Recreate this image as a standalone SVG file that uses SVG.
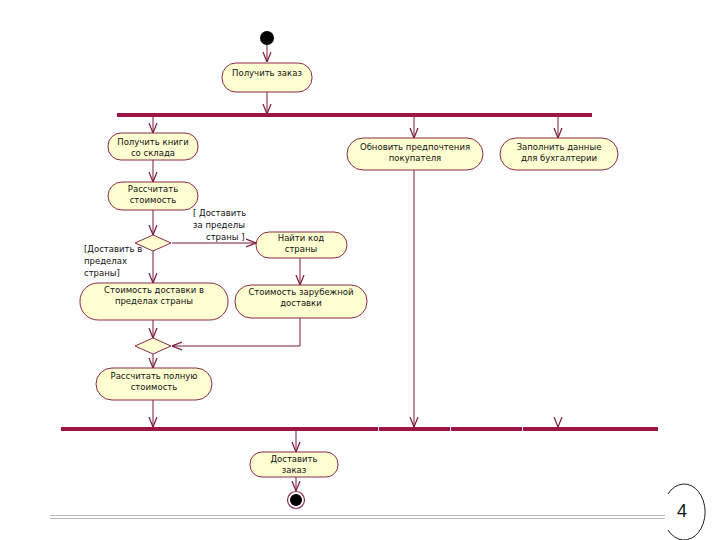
<svg xmlns="http://www.w3.org/2000/svg" width="720" height="540" viewBox="0 0 720 540">
<defs>
<marker id="arr" viewBox="0 0 10 10" refX="10" refY="5" markerWidth="10" markerHeight="10" markerUnits="userSpaceOnUse" orient="auto">
<path d="M0,1 L10,5 L0,9" fill="none" stroke="#7a1a3a" stroke-width="1.2"/>
</marker>
<style>
.nd{fill:#ffffd2;stroke:#8a2a48;stroke-width:1}
.tx{font-family:"DejaVu Sans","Liberation Sans",sans-serif;font-size:8.5px;fill:#111;text-anchor:middle}
.gd{font-family:"DejaVu Sans","Liberation Sans",sans-serif;font-size:8.5px;fill:#111}
.ln{fill:none;stroke:#7a1a3a;stroke-width:1}
.bar{fill:#9c1442}
</style>
</defs>
<rect width="720" height="540" fill="#fff"/>
<g id="connectors">
<path class="ln" d="M267,45 V62" marker-end="url(#arr)"/>
<path class="ln" d="M267,92 V114" marker-end="url(#arr)"/>
<path class="ln" d="M153,117 V133" marker-end="url(#arr)"/>
<path class="ln" d="M414,117 V138" marker-end="url(#arr)"/>
<path class="ln" d="M558,117 V138" marker-end="url(#arr)"/>
<path class="ln" d="M153,160 V182" marker-end="url(#arr)"/>
<path class="ln" d="M153,210 V235" marker-end="url(#arr)"/>
<path class="ln" d="M172,243 H256" marker-end="url(#arr)"/>
<path class="ln" d="M153,251 V283" marker-end="url(#arr)"/>
<path class="ln" d="M300,258 V285" marker-end="url(#arr)"/>
<path class="ln" d="M153,320 V338" marker-end="url(#arr)"/>
<path class="ln" d="M300,318 V346 H172" marker-end="url(#arr)"/>
<path class="ln" d="M153,354 V368" marker-end="url(#arr)"/>
<path class="ln" d="M153,400 V427" marker-end="url(#arr)"/>
<path class="ln" d="M414,170 V427" marker-end="url(#arr)"/>
<path class="ln" d="M558,417 V427" marker-end="url(#arr)" stroke-opacity="0"/>
<path class="ln" d="M296,431 V452" marker-end="url(#arr)"/>
<path class="ln" d="M296,477 V491" marker-end="url(#arr)"/>
</g>
<g id="start"><circle cx="267" cy="38" r="7" fill="#000"/></g>
<g id="fork"><rect class="bar" x="117" y="113" width="475" height="4"/></g>
<g id="join">
<rect class="bar" x="61" y="427" width="317" height="4"/>
<rect class="bar" x="379" y="427" width="71" height="4"/>
<rect class="bar" x="451" y="427" width="71" height="4"/>
<rect class="bar" x="523" y="427" width="135" height="4"/>
</g>
<g id="n1"><rect class="nd" x="222" y="63" width="90" height="29" rx="14"/><text class="tx" x="267" y="76">Получить заказ</text></g>
<g id="n2"><rect class="nd" x="108" y="133" width="90" height="27" rx="13"/><text class="tx" x="153" y="145">Получить книги</text><text class="tx" x="153" y="156">со склада</text></g>
<g id="n3"><rect class="nd" x="347" y="138" width="136" height="32" rx="16"/><text class="tx" x="415" y="150">Обновить предпочтения</text><text class="tx" x="415" y="161">покупателя</text></g>
<g id="n4"><rect class="nd" x="500" y="138" width="118" height="32" rx="16"/><text class="tx" x="559" y="150">Заполнить данные</text><text class="tx" x="559" y="161">для бухгалтерии</text></g>
<g id="n5"><rect class="nd" x="108" y="182" width="90" height="28" rx="14"/><text class="tx" x="153" y="192">Рассчитать</text><text class="tx" x="153" y="203">стоимость</text></g>
<g id="d1"><path class="nd" d="M135,243 L153,235 L171,243 L153,251 Z"/></g>
<g id="g1"><text class="gd" x="193" y="216">[ Доставить</text><text class="gd" x="193" y="228">за пределы</text><text class="gd" x="206" y="240">страны ]</text></g>
<g id="g2"><text class="gd" x="84" y="252">[Доставить в</text><text class="gd" x="84" y="264">пределах</text><text class="gd" x="84" y="276">страны]</text></g>
<g id="n6"><rect class="nd" x="256" y="232" width="91" height="26" rx="13"/><text class="tx" x="301" y="241">Найти код</text><text class="tx" x="301" y="252">страны</text></g>
<g id="n7"><rect class="nd" x="80" y="283" width="148" height="37" rx="18"/><text class="tx" x="154" y="293">Стоимость доставки в</text><text class="tx" x="154" y="304">пределах страны</text></g>
<g id="n8"><rect class="nd" x="235" y="285" width="132" height="33" rx="16"/><text class="tx" x="301" y="295">Стоимость зарубежной</text><text class="tx" x="301" y="306">доставки</text></g>
<g id="d2"><path class="nd" d="M135,346 L153,338 L171,346 L153,354 Z"/></g>
<g id="n9"><rect class="nd" x="96" y="368" width="116" height="32" rx="16"/><text class="tx" x="154" y="379">Рассчитать полную</text><text class="tx" x="154" y="390">стоимость</text></g>
<g id="n10"><rect class="nd" x="250" y="452" width="88" height="25" rx="12"/><text class="tx" x="294" y="462">Доставить</text><text class="tx" x="294" y="473">заказ</text></g>
<g id="end"><circle cx="296" cy="500" r="8.5" fill="#fff" stroke="#8a2a48" stroke-width="1.2"/><circle cx="296" cy="500" r="6" fill="#000"/></g>
<g id="footer">
<line x1="50" y1="515.5" x2="665" y2="515.5" stroke="#b8b8b8" stroke-width="1"/>
<line x1="50" y1="518.5" x2="665" y2="518.5" stroke="#b8b8b8" stroke-width="1"/>
<path d="M668,494 A21,28 0 1,1 668,530" fill="none" stroke="#222" stroke-width="1"/>
<text x="682" y="517" font-family="Liberation Sans, sans-serif" font-size="18" text-anchor="middle" fill="#111">4</text>
</g>
</svg>
